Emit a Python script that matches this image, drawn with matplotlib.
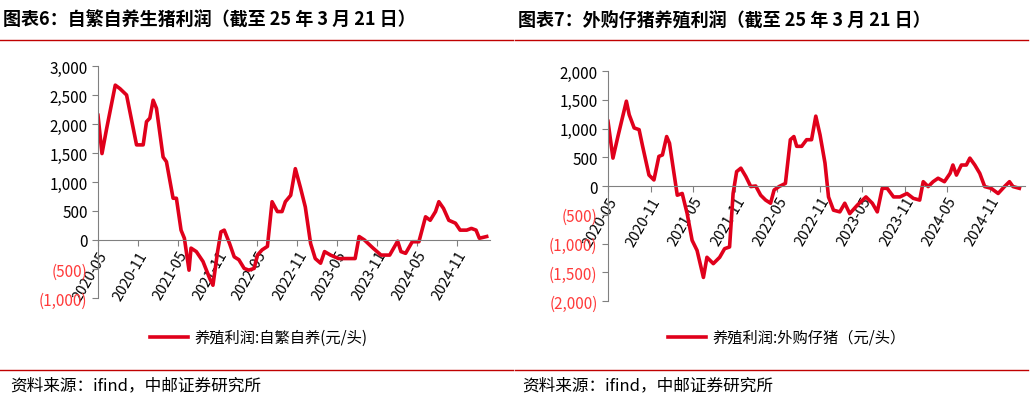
import matplotlib
matplotlib.use("Agg")
import matplotlib.pyplot as plt
from matplotlib.ticker import FuncFormatter
import pandas as pd
import numpy as np

plt.rcParams["font.family"] = ["Noto Sans CJK SC", "DejaVu Sans"]

# months since 2020-05 and profit (元/头)
left_months = [0,0.6,1.3,2.6,3.3,4.3,5.8,6.8,7.3,7.8,8.3,8.8,9.8,10.3,11.3,11.8,12.5,13,13.7,14,14.8,15.8,16.8,17.3,18,18.5,19,19.8,20.5,21.2,22,22.7,23.5,24,24.7,25.5,26.2,27,27.7,28.2,29,29.7,30.5,31.2,32,32.7,33.5,34.1,35,36.2,37.7,38.7,39.3,40.1,41.4,42.6,43.9,45.1,45.6,46.3,47.3,48.3,49.3,50,50.8,51.3,52,52.8,53.8,54.5,55.5,56.2,56.9,57.4,58.5]
left_values = [2150,1490,1920,2670,2610,2500,1640,1640,2040,2100,2410,2270,1430,1350,720,720,170,30,-520,-140,-200,-370,-660,-780,-200,140,170,-60,-290,-340,-490,-520,-490,-260,-170,-110,660,490,490,660,770,1230,890,570,-60,-320,-400,-200,-260,-320,-320,-320,60,0,-140,-260,-260,-20,-200,-230,-30,-30,400,340,490,660,545,340,290,170,170,200,170,30,60]

right_months = [0,0.7,1.4,2.6,3,3.7,4.4,4.9,5.8,6.5,7.2,7.7,8.3,8.7,9.3,9.8,10.5,11.2,11.9,12.6,13.5,14,14.9,15.8,16.5,17.2,17.7,18.2,18.8,19.5,20.2,20.9,21.6,22.3,23,23.5,24.2,25.1,25.8,26.3,26.7,27.4,28.1,28.8,29.4,30,30.7,31.2,31.9,32.8,33.5,34.2,35.3,36.5,37.4,38.1,38.8,39.5,40.4,41.3,42.3,43.2,44.1,44.6,45.3,46,46.7,47.6,48.4,48.8,49.3,50,50.7,51.2,51.9,52.6,53.3,54.2,55.2,56.1,56.8,57.3,58.2]
right_values = [1125,485,860,1475,1240,1010,980,690,190,105,515,540,860,745,250,-160,-130,-480,-945,-1120,-1590,-1240,-1350,-1240,-1090,-1060,-130,250,310,165,-10,0,-160,-245,-300,-70,-10,45,805,860,690,690,805,805,1215,890,400,-190,-420,-450,-300,-480,-330,-190,-300,-450,-40,-40,-190,-190,-130,-215,-245,75,-10,75,135,75,220,365,190,365,365,485,365,220,-10,-40,-130,-10,75,-10,-40]

tick_labels = ["2020-05","2020-11","2021-05","2021-11","2022-05","2022-11","2023-05","2023-11","2024-05","2024-11"]

RED = "#E0001B"
start = pd.Timestamp("2020-05-01")
def to_dates(ms):
    return [start + pd.Timedelta(days=m * 30.44) for m in ms]

fig = plt.figure(figsize=(10.31, 4.02), dpi=100)
W, H = 1031, 402
def ax_rect(x0, x1, ytop, ybot):
    return [x0 / W, 1 - ybot / H, (x1 - x0) / W, (ybot - ytop) / H]

def fmt(v, p):
    s = "{:,.0f}".format(abs(v))
    return "(" + s + ")" if v < 0 else s

def draw(rect, months, values, ylim, step, legend, title, tx, lx, srcx):
    ax = fig.add_axes(rect)
    ax.plot(to_dates(months), values, color=RED, lw=2.6)
    for s in ["top", "right"]:
        ax.spines[s].set_visible(False)
    ax.spines["bottom"].set_position(("data", 0))
    for s in ["left", "bottom"]:
        ax.spines[s].set_color("#808080")
    ax.set_ylim(*ylim)
    ax.set_yticks(np.arange(ylim[0], ylim[1] + 1, step))
    ax.yaxis.set_major_formatter(FuncFormatter(fmt))
    ax.set_xlim(start, to_dates([59])[0])
    ax.set_xticks([pd.Timestamp(t + "-01") for t in tick_labels])
    ax.set_xticklabels(tick_labels, rotation=60, ha="right", rotation_mode="anchor", fontsize=10.5)
    ax.tick_params(axis="y", labelsize=11, color="#808080", length=4)
    ax.tick_params(axis="x", color="#808080", length=4, pad=2)
    for lab, v in zip(ax.get_yticklabels(), ax.get_yticks()):
        if v < 0:
            lab.set_color("#FF3B3B")
    fig.text(tx / W, 1 - 20 / H, title, fontsize=13, fontweight="bold", va="center")
    fig.add_artist(plt.Line2D([tx / W - 0.003, (tx + 510) / W], [1 - 41 / H] * 2, color="#C00000", lw=1))
    fig.add_artist(plt.Line2D([lx / W, (lx + 38) / W], [1 - 338 / H] * 2, color=RED, lw=2.6))
    fig.text((lx + 44) / W, 1 - 338 / H, legend, fontsize=11, va="center")
    fig.add_artist(plt.Line2D([tx / W - 0.003, (tx + 510) / W], [1 - 371 / H] * 2, color="#C00000", lw=1))
    fig.text(srcx / W, 1 - 386 / H, "资料来源：ifind，中邮证券研究所", fontsize=12, va="center")

draw(ax_rect(98, 490, 67, 299), left_months, left_values, (-1000, 3000), 500,
     "养殖利润:自繁自养(元/头)", "图表6：自繁自养生猪利润（截至 25 年 3 月 21 日）", 3, 150, 10)
draw(ax_rect(608, 1025, 72, 302), right_months, right_values, (-2000, 2000), 500,
     "养殖利润:外购仔猪（元/头）", "图表7：外购仔猪养殖利润（截至 25 年 3 月 21 日）", 518, 668, 522)

fig.savefig("out.png", dpi=100)
